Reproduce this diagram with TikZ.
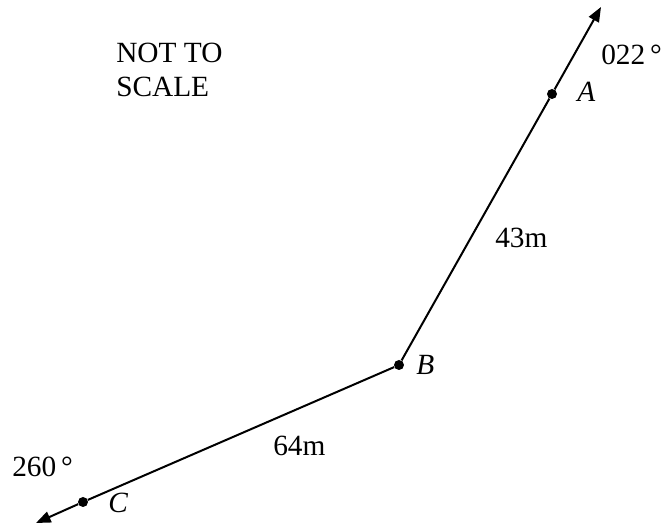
\documentclass[tikz,border=0pt]{standalone}
\usepackage{fontspec}
\setmainfont{Liberation Serif}
\usetikzlibrary{arrows.meta}
\begin{document}
\begin{tikzpicture}[x=0.75pt,y=-0.75pt,
  ln/.style={line width=1.5pt},
  arr/.style={ln,-{Triangle[length=11pt,width=8.5pt]}},
  pt/.style={circle,fill=black,inner sep=0pt,minimum size=7.5pt},
  lbl/.style={anchor=base west,inner sep=0pt,font=\fontsize{22}{26}\selectfont}]
\useasboundingbox (0,0) rectangle (662,527);
\node[pt] (A) at (552,94) {};
\node[pt] (B) at (399,365) {};
\node[pt] (C) at (83,502) {};
\coordinate (tA) at (601,7);
\coordinate (tC) at (36,523);
\draw[ln] (B) -- (A);
\draw[arr] (A) -- (tA);
\draw[ln] (B) -- (C);
\draw[arr] (C) -- (tC);
\node[lbl] (n1) at (116,63) {NOT TO};
\node[lbl] (n2) at (116,97) {SCALE};
\node[lbl] (b1) at (601,65) {022\,°};
\node[lbl] (la) at (577,102) {\itshape A};
\node[lbl] (d1) at (495,248) {43m};
\node[lbl] (lb) at (416,375) {\itshape B};
\node[lbl] (d2) at (273,456) {64m};
\node[lbl] (b2) at (12,477) {260\,°};
\node[lbl] (lc) at (108,513) {\itshape C};
\end{tikzpicture}
\end{document}
